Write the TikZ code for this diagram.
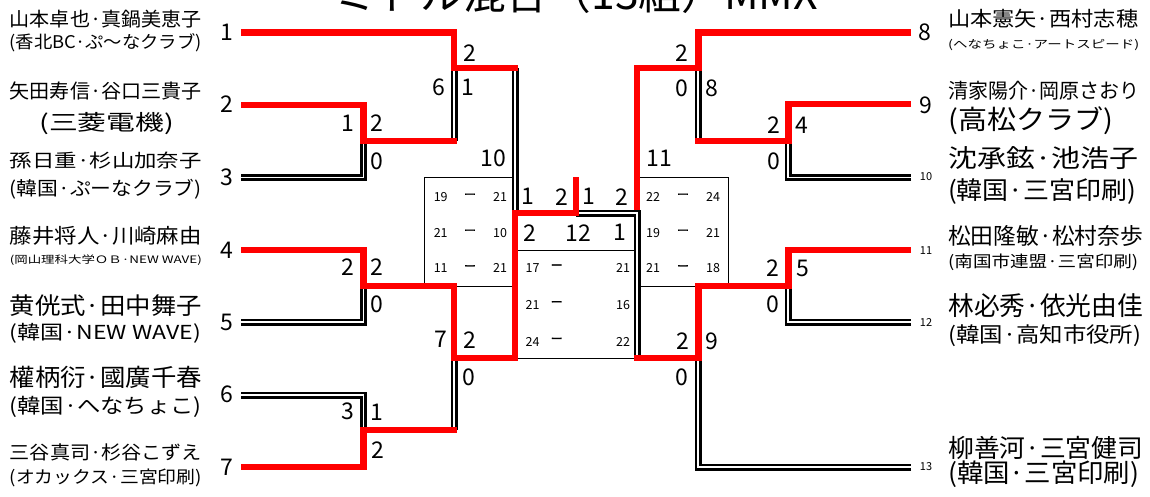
\documentclass[tikz,border=0pt]{standalone}
\usepackage{fontspec}
\setmainfont{Noto Sans CJK JP}
\newfontfamily\dashfont[FakeBold=1.5]{Noto Sans CJK JP}
\newcommand{\fitbox}[3]{\resizebox*{#1pt}{#2pt}{#3}}
\begin{document}
\begin{tikzpicture}[x=1pt,y=-1pt,
  win/.style={draw=red, line width=6.8pt},
  lose/.style={draw=black, line width=2.6pt, double=white, double distance=1.8pt},
  boxline/.style={draw=black, line width=0.8pt},
  sc/.style={font=\fontsize{23}{23}\selectfont, inner sep=0pt},
  gs/.style={font=\fontsize{12.5}{12.5}\selectfont, inner sep=0pt},
  gd/.style={font=\dashfont\fontsize{12}{12}\selectfont, inner sep=0pt},
  pns/.style={font=\fontsize{11}{11}\selectfont, inner sep=0pt},
  nmL/.style={anchor=east, inner sep=0pt},
  nmR/.style={anchor=west, inner sep=0pt}]

\useasboundingbox (0,0) rectangle (1150,497);
\fill[white] (0,0) rectangle (1150,497);

% title (clipped at the top edge, as in the reference)
\node[anchor=base, inner sep=0pt] (title) at (576.5,10)
  {\resizebox{483pt}{!}{\fontsize{40}{40}\selectfont ミドル混合（13組）MMX}};

% coordinates
\coordinate (a1) at (241,32.5);
\coordinate (a2) at (241,105);
\coordinate (a3) at (241,177.5);
\coordinate (a4) at (241,250);
\coordinate (a5) at (241,322);
\coordinate (a6) at (241,395);
\coordinate (a7) at (241,467);
\coordinate (b8) at (911,32.5);
\coordinate (b9) at (911,104);
\coordinate (b10) at (911,177.5);
\coordinate (b11) at (911,250);
\coordinate (b12) at (911,322);
\coordinate (b13) at (911,467);
\coordinate (m1) at (363.5,141);
\coordinate (m2) at (363.5,286);
\coordinate (m3) at (363.5,430);
\coordinate (m6) at (454,68);
\coordinate (m7) at (454,358);
\coordinate (m10) at (515,213);
\coordinate (fin) at (576,213);
\coordinate (champ) at (576,177);
\coordinate (m4) at (788.3,141);
\coordinate (m5) at (788.3,286);
\coordinate (m8) at (698.3,68);
\coordinate (m9) at (698.3,358);
\coordinate (m11) at (637,213);

% score boxes
\draw[boxline] (424,177.3) rectangle (515,286);
\draw[boxline] (637,177.3) rectangle (728.3,286);
\draw[boxline] (515,250) -- (637,250);
\draw[boxline] (515,358) -- (637,358);

% losing paths
\draw[lose] (a3) -| (m1);
\draw[lose] (a5) -| (m2);
\draw[lose] (a6) -| (m3);
\draw[lose] (m6) -- (m6 |- m1);
\draw[lose] (m7) -- (m7 |- m3);
\draw[lose] (m10 |- m6) -- (m10);
\draw[lose] (fin) -- (m11) -- (m11 |- m9);
\draw[lose] (b10) -| (m4);
\draw[lose] (b12) -| (m5);
\draw[lose] (b13) -| (m9);
\draw[lose] (m8) -- (m8 |- m4);

% winning paths
\draw[win, shorten >=-3.4pt] (a1) -| (m6) -- (m10 |- m6);
\draw[win, shorten >=-3.4pt] (a2) -| (m1) -- (m6 |- m1);
\draw[win] (a4) -| (m2) -| (m7) -| (m10) -- (fin) -- (champ);
\draw[win, shorten >=-3.4pt] (a7) -| (m3) -- (m7 |- m3);
\draw[win, shorten >=3.4pt] (b8) -| (m8) -| (m11);
\draw[win, shorten >=-3.4pt] (b9) -| (m4) -- (m8 |- m4);
\draw[win, shorten >=-3.4pt] (b11) -| (m5) -| (m9) -- (m11 |- m9);

% player numbers
\node[sc] (n1) at (227,32) {1};
\node[sc] (n2) at (227,104) {2};
\node[sc] (n3) at (227,177) {3};
\node[sc] (n4) at (227,250) {4};
\node[sc] (n5) at (227,322) {5};
\node[sc] (n6) at (227,394) {6};
\node[sc] (n7) at (227,467) {7};
\node[sc] (n8) at (925,32) {8};
\node[sc] (n9) at (926,105.5) {9};
\node[pns] (n10) at (926,177) {10};
\node[pns] (n11) at (926,251) {11};
\node[pns] (n12) at (926,323) {12};
\node[pns] (n13) at (926,467) {13};

% names left
\node[nmL] (t1a) at (202,19) {\fitbox{192}{18}{山本卓也·真鍋美恵子}};
\node[nmL] (t1b) at (202,42.5) {\fitbox{192}{18.4}{(香北BC·ぷ〜なクラブ)}};
\node[nmL] (t2a) at (202,91) {\fitbox{192}{18.3}{矢田寿信·谷口三貴子}};
\node[inner sep=0pt] (t2b) at (106.7,124) {\fitbox{134.7}{22.3}{(三菱電機)}};
\node[nmL] (t3a) at (202,160.5) {\fitbox{192}{17}{孫日重·杉山加奈子}};
\node[nmL] (t3b) at (202,189.3) {\fitbox{192}{20}{(韓国·ぷーなクラブ)}};
\node[nmL] (t4a) at (202,235.5) {\fitbox{192}{19}{藤井将人·川崎麻由}};
\node[nmL] (t4b) at (202,259.7) {\fitbox{192}{10.7}{(岡山理科大学ＯＢ·NEW WAVE)}};
\node[nmL] (t5a) at (202,305.8) {\fitbox{192}{21.7}{黄侊式·田中舞子}};
\node[nmL] (t5b) at (201,333) {\fitbox{191}{20}{(韓国·NEW WAVE)}};
\node[nmL] (t6a) at (202,377.8) {\fitbox{192}{22.3}{權柄衍·國廣千春}};
\node[nmL] (t6b) at (202,406.7) {\fitbox{192}{21.3}{(韓国·へなちょこ)}};
\node[nmL] (t7a) at (202,452) {\fitbox{192}{17.3}{三谷真司·杉谷こずえ}};
\node[nmL] (t7b) at (202,478.3) {\fitbox{192}{18}{(オカックス·三宮印刷)}};

% names right
\node[nmR] (t8a) at (948,19) {\fitbox{190}{19}{山本憲矢·西村志穂}};
\node[nmR] (t8b) at (948,45) {\fitbox{191}{11.4}{(へなちょこ·アートスピード)}};
\node[nmR] (t9a) at (948,91) {\fitbox{191}{19}{清家陽介·岡原さおり}};
\node[nmR] (t9b) at (948,121) {\fitbox{165}{28}{(高松クラブ)}};
\node[nmR] (t10a) at (948,158.5) {\fitbox{190}{23}{沈承鉉·池浩子}};
\node[nmR] (t10b) at (948,192) {\fitbox{188}{25.7}{(韓国·三宮印刷)}};
\node[nmR] (t11a) at (948,235.5) {\fitbox{195}{21}{松田隆敏·松村奈歩}};
\node[nmR] (t11b) at (948,262.7) {\fitbox{190}{16.7}{(南国市連盟·三宮印刷)}};
\node[nmR] (t12a) at (948,305.3) {\fitbox{195}{24}{林必秀·依光由佳}};
\node[nmR] (t12b) at (948,336) {\fitbox{193}{22}{(韓国·高知市役所)}};
\node[nmR] (t13a) at (948,447.7) {\fitbox{195}{23.3}{柳善河·三宮健司}};
\node[nmR] (t13b) at (948,474.3) {\fitbox{191}{26.7}{(韓国·三宮印刷)}};

% match scores and numbers, left
\node[sc] (s1n) at (347.5,123.3) {1};
\node[sc] (s1a) at (376.7,123.3) {2};
\node[sc] (s1b) at (377,161) {0};
\node[sc] (s6a) at (470,53.3) {2};
\node[sc] (s6n) at (439,87.5) {6};
\node[sc] (s6b) at (468,87.5) {1};
\node[sc] (s10n) at (493,158) {10};
\node[sc] (s2n) at (348,267.5) {2};
\node[sc] (s2a) at (376.7,267.5) {2};
\node[sc] (s2b) at (377,304) {0};
\node[sc] (s7n) at (441,339) {7};
\node[sc] (s7a) at (470,340) {2};
\node[sc] (s7b) at (469,377) {0};
\node[sc] (s3n) at (348,411.7) {3};
\node[sc] (s3a) at (377,412) {1};
\node[sc] (s3b) at (378,450) {2};

% centre
\node[sc] (c1) at (528,196.7) {1};
\node[sc] (c2) at (561.7,196.7) {2};
\node[sc] (c3) at (589,196.7) {1};
\node[sc] (c4) at (621.7,196.7) {2};
\node[sc] (c5) at (530,232.7) {2};
\node[sc] (c6) at (578,232.7) {12};
\node[sc] (c7) at (620,232.7) {1};

% right
\node[sc] (s8a) at (682,53) {2};
\node[sc] (s8b) at (682,88) {0};
\node[sc] (s8n) at (711.7,88) {8};
\node[sc] (s11n) at (659,158) {11};
\node[sc] (s4a) at (774,125) {2};
\node[sc] (s4n) at (802,125) {4};
\node[sc] (s4b) at (774,161) {0};
\node[sc] (s5a) at (773,268) {2};
\node[sc] (s5n) at (803,268) {5};
\node[sc] (s5b) at (773,304) {0};
\node[sc] (s9a) at (682.5,341) {2};
\node[sc] (s9n) at (712,341) {9};
\node[sc] (s9b) at (682,377) {0};

% game scores, left box
\node[gs] (gl1a) at (440.7,196.7) {19};
\node[gd] (gl1d) at (470,196.2) {ー};
\node[gs] (gl1b) at (500,196.7) {21};
\node[gs] (gl2a) at (440.7,232.7) {21};
\node[gd] (gl2d) at (470,232.2) {ー};
\node[gs] (gl2b) at (500,232.7) {10};
\node[gs] (gl3a) at (440.7,268.3) {11};
\node[gd] (gl3d) at (470,267.8) {ー};
\node[gs] (gl3b) at (500,268.3) {21};
% right box
\node[gs] (gr1a) at (653,196.7) {22};
\node[gd] (gr1d) at (683,196.2) {ー};
\node[gs] (gr1b) at (713,196.7) {24};
\node[gs] (gr2a) at (653,232.7) {19};
\node[gd] (gr2d) at (683,232.2) {ー};
\node[gs] (gr2b) at (713,232.7) {21};
\node[gs] (gr3a) at (653,268.3) {21};
\node[gd] (gr3d) at (683,267.8) {ー};
\node[gs] (gr3b) at (713,268.3) {18};
% centre box
\node[gs] (gc1a) at (532.5,268.3) {17};
\node[gd] (gc1d) at (556.7,267) {ー};
\node[gs] (gc1b) at (623,268.3) {21};
\node[gs] (gc2a) at (532.5,305) {21};
\node[gd] (gc2d) at (556.7,303.7) {ー};
\node[gs] (gc2b) at (623,305) {16};
\node[gs] (gc3a) at (532.5,341.7) {24};
\node[gd] (gc3d) at (556.7,340.4) {ー};
\node[gs] (gc3b) at (623,341.7) {22};
\end{tikzpicture}
\end{document}
